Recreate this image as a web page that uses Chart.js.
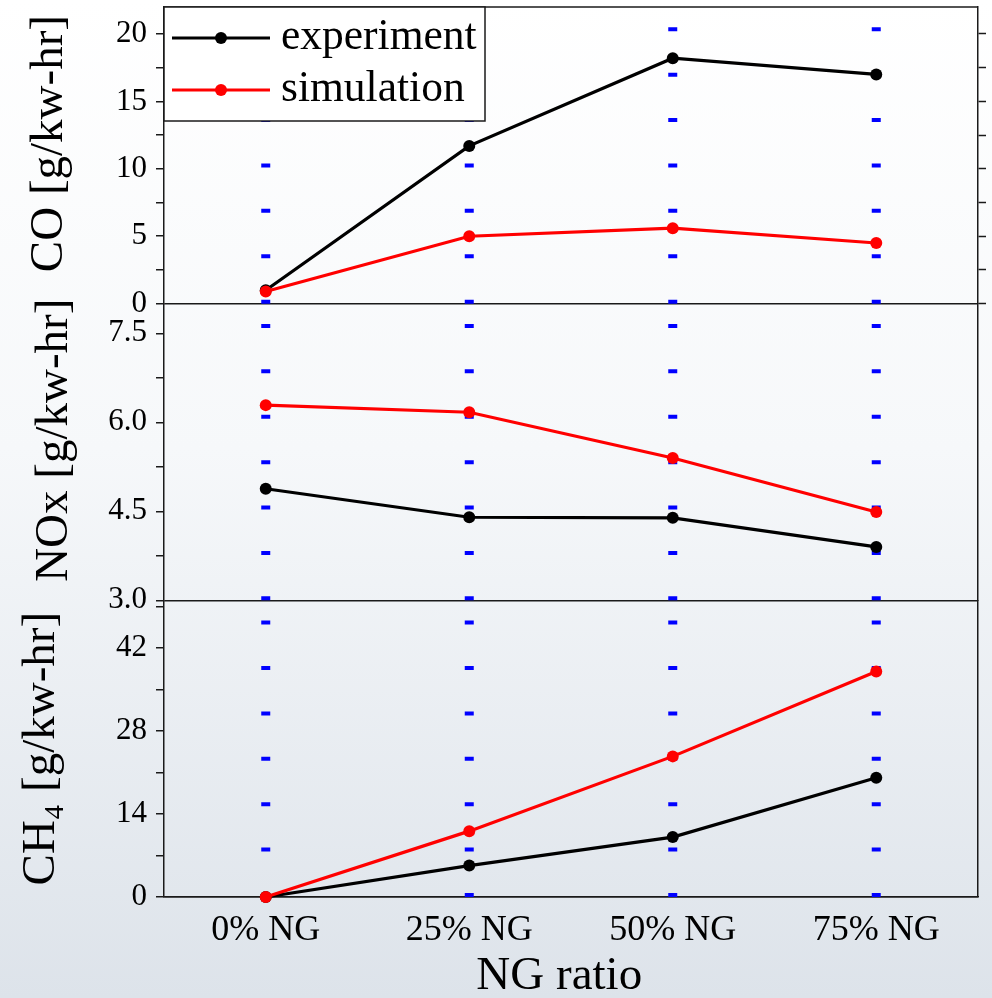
<!DOCTYPE html>
<html>
<head>
<meta charset="utf-8">
<title>Emissions vs NG ratio</title>
<script src="https://cdn.jsdelivr.net/npm/chart.js@4.4.1/dist/chart.umd.min.js"></script>
<style>
  html, body { margin: 0; padding: 0; }
  body {
    width: 992px; height: 998px; overflow: hidden;
    background: linear-gradient(to bottom, #ffffff 0%, #f6f8fa 45%, #dde3ea 100%);
  }
  canvas { display: block; }
</style>
</head>
<body>
<canvas id="c" width="992" height="998"></canvas>
<script>
// ---- data ----
const categories = ['0% NG', '25% NG', '50% NG', '75% NG'];
const seriesNames = ['experiment', 'simulation'];

const coExperiment  = [1.0, 11.7, 18.2, 17.0];
const coSimulation  = [0.9, 5.0, 5.6, 4.5];
const noxExperiment = [4.88, 4.40, 4.39, 3.90];
const noxSimulation = [6.29, 6.17, 5.40, 4.49];
const ch4Experiment = [0.0, 5.3, 10.1, 20.1];
const ch4Simulation = [0.0, 11.1, 23.7, 38.0];

const coTicks  = [0, 5, 10, 15, 20];
const noxTicks = [3.0, 4.5, 6.0, 7.5];
const ch4Ticks = [0, 14, 28, 42];

const coRange  = [0, 22];
const noxRange = [3, 8];
const ch4Range = [0, 50];

// ---- styling ----
const SERIF = "'Liberation Serif', 'Times New Roman', serif";
const INK = '#000000';
const AXIS = '#1a1a1a';
const BLACK = '#000000';
const RED = '#ff0000';
const GUIDE = '#0000ff';
const NB = '\u00a0';

// major ticks plus a minor tick half way to the next one
function tickSet(major, max) {
  const half = (major[1] - major[0]) / 2;
  const all = [];
  major.forEach(v => {
    all.push(v);
    if (v + half <= max + 1e-9) all.push(v + half);
  });
  return all;
}
const isMajor = (major, v) => major.some(m => Math.abs(m - v) < 1e-9);

// the panels share one frame, so no axis may reserve room for overhanging labels
function noOverhang(s) {
  s.paddingTop = 0; s.paddingBottom = 0; s.paddingLeft = 0; s.paddingRight = 0;
}

function leftAxis(title, range, major, decimals, titlePad) {
  const all = tickSet(major, range[1]);
  return {
    type: 'linear', position: 'left', stack: 'panels', stackWeight: 1,
    min: range[0], max: range[1],
    afterBuildTicks: s => { s.ticks = all.map(v => ({ value: v })); },
    afterFit: s => { s.width = 164; noOverhang(s); },
    ticks: {
      autoSkip: false, padding: 9, color: INK,
      font: { family: SERIF, size: 31 },
      callback: v => isMajor(major, v) ? Number(v).toFixed(decimals) : ''
    },
    grid: {
      drawOnChartArea: true,
      color: ctx => (ctx.tick && Math.abs(ctx.tick.value - range[0]) < 1e-9) ? AXIS : 'rgba(0,0,0,0)',
      lineWidth: 1.5, tickLength: 8, tickColor: AXIS, tickWidth: 1.5
    },
    border: { display: true, color: AXIS, width: 1.5 },
    title: {
      display: true, text: title, color: INK,
      font: { family: SERIF, size: 47, lineHeight: 1 },
      padding: { top: titlePad, bottom: 0 }
    }
  };
}

function rightAxis(range, major, withTicks) {
  const all = tickSet(major, range[1]);
  return {
    type: 'linear', position: 'right', stack: 'frameRight', stackWeight: 1,
    min: range[0], max: range[1],
    afterBuildTicks: s => { s.ticks = withTicks ? all.map(v => ({ value: v })) : []; },
    afterFit: s => { s.width = 14; noOverhang(s); },
    ticks: { display: false },
    grid: { drawOnChartArea: false, drawTicks: withTicks, tickLength: 8, tickColor: AXIS, tickWidth: 1.5 },
    border: { display: true, color: AXIS, width: 1.5 }
  };
}

function series(label, data, color, axis, order) {
  return {
    label, data, yAxisID: axis, order,
    borderColor: color, backgroundColor: color,
    borderWidth: 3.2, pointRadius: 6, pointHoverRadius: 6, pointBorderWidth: 0,
    tension: 0, clip: false
  };
}

// dotted blue guides at each category, one run per panel, starting at the panel floor
const columnGuides = {
  id: 'columnGuides',
  beforeDatasetsDraw(chart) {
    const { ctx, scales } = chart;
    const x = scales.x;
    ctx.save();
    ctx.strokeStyle = GUIDE;
    ctx.lineWidth = 9;
    ctx.lineCap = 'butt';
    ctx.setLineDash([4, 41.4]);
    ['yCO', 'yNOx', 'yCH4'].forEach(id => {
      const s = scales[id];
      categories.forEach((c, i) => {
        const px = x.getPixelForValue(i);
        ctx.beginPath();
        ctx.moveTo(px, s.bottom);
        ctx.lineTo(px, s.top);
        ctx.stroke();
      });
    });
    ctx.restore();
  }
};

// top edge of the frame and the boxed legend in the upper-left corner
const frameAndLegend = {
  id: 'frameAndLegend',
  afterDatasetsDraw(chart) {
    const { ctx, chartArea } = chart;
    ctx.save();
    ctx.strokeStyle = AXIS;
    ctx.lineWidth = 1.5;
    ctx.beginPath();
    ctx.moveTo(chartArea.left, chartArea.top);
    ctx.lineTo(chartArea.right, chartArea.top);
    ctx.stroke();

    const bx = chartArea.left, by = chartArea.top, bw = 321, bh = 114;
    ctx.fillStyle = '#ffffff';
    ctx.fillRect(bx, by, bw, bh);
    ctx.strokeRect(bx, by, bw, bh);

    const ds = chart.data.datasets;
    const rows = [by + 31, by + 83];
    seriesNames.forEach((name, i) => {
      const color = ds[i].borderColor;
      const y = rows[i];
      ctx.strokeStyle = color;
      ctx.lineWidth = 3.2;
      ctx.beginPath();
      ctx.moveTo(bx + 8, y);
      ctx.lineTo(bx + 106, y);
      ctx.stroke();
      ctx.fillStyle = color;
      ctx.beginPath();
      ctx.arc(bx + 57, y, 6, 0, Math.PI * 2);
      ctx.fill();
      ctx.fillStyle = INK;
      ctx.font = `43.5px ${SERIF}`;
      ctx.textAlign = 'left';
      ctx.textBaseline = 'middle';
      ctx.fillText(name, bx + 117, y);
    });
    ctx.restore();
  }
};

new Chart(document.getElementById('c'), {
  type: 'line',
  data: {
    labels: categories,
    datasets: [
      series(seriesNames[0], coExperiment, BLACK, 'yCO', 1),
      series(seriesNames[1], coSimulation, RED, 'yCO', 0),
      series(seriesNames[0], noxExperiment, BLACK, 'yNOx', 1),
      series(seriesNames[1], noxSimulation, RED, 'yNOx', 0),
      series(seriesNames[0], ch4Experiment, BLACK, 'yCH4', 1),
      series(seriesNames[1], ch4Simulation, RED, 'yCH4', 0)
    ]
  },
  options: {
    responsive: false,
    devicePixelRatio: 1,
    animation: false,
    layout: { padding: { left: 0, right: 0, top: 7, bottom: 0 } },
    plugins: { legend: { display: false }, tooltip: { enabled: false } },
    scales: {
      x: {
        type: 'category', position: 'bottom', offset: true,
        afterFit: s => { s.height = 101; noOverhang(s); },
        grid: { drawOnChartArea: false, drawTicks: false },
        border: { display: true, color: AXIS, width: 1.5 },
        ticks: { color: INK, padding: 12, font: { family: SERIF, size: 36 }, maxRotation: 0, autoSkip: false },
        title: {
          display: true, text: 'NG ratio' + NB + NB, color: INK,
          font: { family: SERIF, size: 47, lineHeight: 1 },
          padding: { top: 0, bottom: -2 }
        }
      },
      // left stack: the last one listed sits on top
      yCH4: leftAxis('CH\u2084 [g/kw-hr]', ch4Range, ch4Ticks, 0, 18),
      yNOx: leftAxis(NB + NB + 'NOx [g/kw-hr]', noxRange, noxTicks, 1, 31),
      yCO:  leftAxis(NB + NB + 'CO [g/kw-hr]', coRange, coTicks, 0, 26),
      // right stack: the first one listed sits on top
      yCOr:  rightAxis(coRange, coTicks, true),
      yNOxR: rightAxis(noxRange, noxTicks, false),
      yCH4R: rightAxis(ch4Range, ch4Ticks, false)
    }
  },
  plugins: [columnGuides, frameAndLegend]
});
</script>
</body>
</html>
